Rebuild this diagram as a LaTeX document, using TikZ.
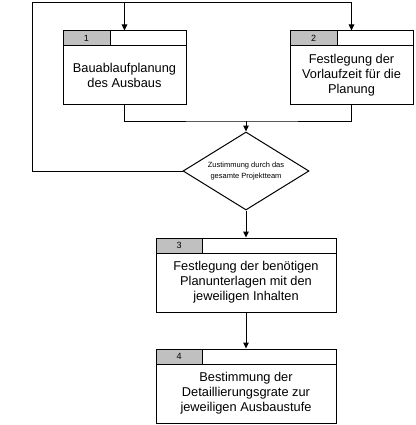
\documentclass[tikz,border=0pt]{standalone}
\usepackage{fontspec}
\setmainfont{Liberation Sans}
\usetikzlibrary{shapes.geometric,arrows.meta}
\definecolor{hdrgray}{RGB}{192,192,192}
\begin{document}
\begin{tikzpicture}[x=1pt,y=-1pt,line width=1pt,
  bodybox/.style={draw,rectangle,inner sep=0pt,minimum width=#1,minimum height=59pt,align=center,font=\fontsize{12.8}{15}\selectfont},
  hdrbox/.style={draw,rectangle,inner sep=0pt,minimum width=#1,minimum height=15pt},
  graybox/.style={draw,fill=hdrgray,rectangle,inner sep=0pt,minimum width=#1,minimum height=15pt,font=\fontsize{9}{10}\selectfont},
  decision/.style={draw,diamond,inner sep=0pt,minimum width=126pt,minimum height=78pt,aspect=1.615,align=center,font=\fontsize{7.5}{11}\selectfont},
  arr/.style={-{Triangle[length=6pt,width=5.5pt]}}]
\useasboundingbox (0,0) rectangle (415,425);
% box 1
\node[hdrbox=123pt] (h1) at (124.5,38.5) {};
\node[graybox=47pt,anchor=north west] (g1) at (h1.north west) {1};
\node[bodybox=123pt] (b1) at (124.5,75.5) {Bauablaufplanung\\des Ausbaus};
% box 2
\node[hdrbox=123pt] (h2) at (351.5,38.5) {};
\node[graybox=47pt,anchor=north west] (g2) at (h2.north west) {2};
\node[bodybox=123pt] (b2) at (351.5,75.5) {Festlegung der\\Vorlaufzeit für die\\Planung};
% decision
\node[decision] (d) at (246,171) {Zustimmung durch das\\gesamte Projektteam};
% box 3
\node[hdrbox=180pt] (h3) at (246,245.5) {};
\node[graybox=46pt,anchor=north west] (g3) at (h3.north west) {3};
\node[bodybox=180pt] (b3) at (246,282.5) {Festlegung der benötigen\\Planunterlagen mit den\\jeweiligen Inhalten};
% box 4
\node[hdrbox=180pt] (h4) at (246,356.5) {};
\node[graybox=46pt,anchor=north west] (g4) at (h4.north west) {4};
\node[bodybox=180pt] (b4) at (246,393.5) {Bestimmung der\\Detaillierungsgrate zur\\jeweiligen Ausbaustufe};
% connectors
\coordinate (tl) at (32,2.5);
\coordinate (tr) at (h2.north |- 0,2.5);
\coordinate (m) at (d.north |- 0,121);
\draw (d.west) -| (tl) -- (tr);
\draw[arr] (h1.north |- tl) -- (h1.north);
\draw[arr] (tr) -- (h2.north);
\draw (b1.south) |- (m) -| (b2.south);
\draw[arr] (m) -- (d.north);
\draw[arr] (d.south) -- (h3.north);
\draw[arr] (b3.south) -- (h4.north);
\end{tikzpicture}
\end{document}
